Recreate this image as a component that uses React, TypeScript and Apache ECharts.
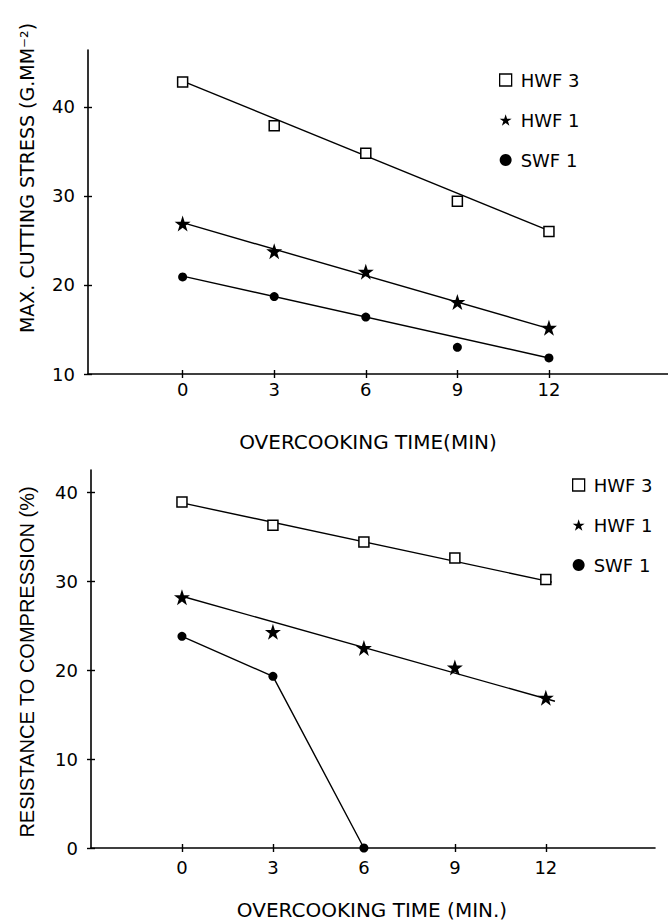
import React, { useEffect, useRef } from "react";
import * as echarts from "echarts";

const xTicks = [0, 3, 6, 9, 12];
const seriesNames = ["HWF 3", "HWF 1", "SWF 1"];

// Top panel: max cutting stress (g.mm-2)
const stressHWF3 = [42.8, 37.9, 34.8, 29.4, 26.0];
const stressHWF1 = [26.9, 23.8, 21.5, 18.1, 15.2];
const stressSWF1 = [20.9, 18.7, 16.4, 13.0, 11.8];
// fitted regression lines (start, end)
const stressFitHWF3 = [[0, 42.9], [12, 26.1]];
const stressFitHWF1 = [[0, 27.0], [12, 15.1]];
const stressFitSWF1 = [[0, 21.0], [12, 11.8]];
const stressYTicks = [10, 20, 30, 40];

// Bottom panel: resistance to compression (%)
const compHWF3 = [38.9, 36.3, 34.4, 32.6, 30.2];
const compHWF1 = [28.2, 24.3, 22.5, 20.3, 16.9];
const compSWF1X = [0, 3, 6];
const compSWF1 = [23.8, 19.3, 0.0];
const compFitHWF3 = [[0, 38.8], [12.2, 29.9]];
const compFitHWF1 = [[0, 28.3], [12.3, 16.5]];
const compYTicks = [0, 10, 20, 30, 40];

const STAR =
  "path://M50,0 L61.8,35.3 L99,35.3 L69,57.4 L80.4,92.6 L50,70.8 L19.6,92.6 L31,57.4 L1,35.3 L38.2,35.3 Z";
const symbols: Record<string, any> = {
  "HWF 3": "rect",
  "HWF 1": STAR,
  "SWF 1": "circle",
};
const symbolSizes: Record<string, number> = { "HWF 3": 10, "HWF 1": 16, "SWF 1": 9 };

const FONT = "DejaVu Sans";

function scatter(name: string, xs: number[], ys: number[], gi: number) {
  const hollow = name === "HWF 3";
  return {
    type: "scatter",
    name,
    xAxisIndex: gi,
    yAxisIndex: gi,
    symbol: symbols[name],
    symbolSize: symbolSizes[name],
    data: xs.map((x, i) => [x, ys[i]]),
    itemStyle: hollow
      ? { color: "#fff", borderColor: "#000", borderWidth: 1.5, opacity: 1 }
      : { color: "#000", opacity: 1 },
    z: 5,
  };
}

function line(data: number[][], gi: number) {
  return {
    type: "line",
    xAxisIndex: gi,
    yAxisIndex: gi,
    data,
    symbol: "none",
    lineStyle: { color: "#000", width: 1.4 },
    z: 3,
  };
}

function xAxis(gi: number, min: number, max: number, inner = false) {
  return {
    type: "value",
    gridIndex: gi,
    position: "bottom",
    min,
    max,
    splitLine: { show: false },
    axisLine: { show: !inner, onZero: false, lineStyle: { color: "#000", width: 1.6 } },
    axisTick: {
      customValues: xTicks,
      inside: inner,
      length: 4,
      lineStyle: { color: "#000", width: 1.4 },
    },
    axisLabel: {
      show: !inner,
      customValues: xTicks,
      color: "#000",
      fontSize: 18,
      fontFamily: FONT,
      margin: gi === 0 ? 6 : 10,
    },
  };
}

function yAxis(gi: number, min: number, max: number, ticks: number[], inner = false) {
  return {
    type: "value",
    gridIndex: gi,
    position: "left",
    min,
    max,
    splitLine: { show: false },
    axisLine: { show: !inner, onZero: false, lineStyle: { color: "#000", width: 1.6 } },
    axisTick: {
      customValues: ticks,
      inside: inner,
      length: 4,
      lineStyle: { color: "#000", width: 1.4 },
    },
    axisLabel: {
      show: !inner,
      customValues: ticks,
      color: "#000",
      fontSize: 18,
      fontFamily: FONT,
      margin: 13,
    },
  };
}

function legend(left: number, top: number) {
  return {
    orient: "vertical",
    left,
    top,
    itemGap: 22,
    itemWidth: 12,
    itemHeight: 12,
    selectedMode: false,
    textStyle: { color: "#000", fontSize: 18, fontFamily: FONT, padding: [0, 0, 0, 4] },
    data: seriesNames.map((n) => ({
      name: n,
      icon: n === "HWF 3" ? "rect" : symbols[n],
      itemStyle:
        n === "HWF 3"
          ? { color: "#fff", borderColor: "#000", borderWidth: 1.3 }
          : { color: "#000" },
    })),
  };
}

export default function App() {
  const ref = useRef<HTMLDivElement>(null);
  useEffect(() => {
    if (!ref.current) return;
    const chart = echarts.init(ref.current, null, { renderer: "svg" });
    chart.setOption({
      animation: false,
      backgroundColor: "#fff",
      grid: [
        { left: 88, top: 50, width: 580, height: 324 },
        { left: 91, top: 470, width: 564, height: 378 },
      ],
      xAxis: [
        xAxis(0, -3.1, 15.9),
        xAxis(1, -3.0, 15.6),
        xAxis(0, -3.1, 15.9, true),
        xAxis(1, -3.0, 15.6, true),
      ],
      yAxis: [
        yAxis(0, 10, 46.4, stressYTicks),
        yAxis(1, 0, 42.5, compYTicks),
        yAxis(0, 10, 46.4, stressYTicks, true),
        yAxis(1, 0, 42.5, compYTicks, true),
      ],
      legend: [legend(494, 66), legend(567, 471)],
      series: [
        line(stressFitHWF3, 0),
        line(stressFitHWF1, 0),
        line(stressFitSWF1, 0),
        scatter("HWF 3", xTicks, stressHWF3, 0),
        scatter("HWF 1", xTicks, stressHWF1, 0),
        scatter("SWF 1", xTicks, stressSWF1, 0),
        line(compFitHWF3, 1),
        line(compFitHWF1, 1),
        line(compSWF1X.map((x, i) => [x, compSWF1[i]]), 1),
        scatter("HWF 3", xTicks, compHWF3, 1),
        scatter("HWF 1", xTicks, compHWF1, 1),
        scatter("SWF 1", compSWF1X, compSWF1, 1),
      ],
      graphic: [
        {
          type: "text",
          x: 27,
          y: 178,
          rotation: Math.PI / 2,
          style: {
            text: "MAX. CUTTING STRESS (G.MM⁻²)",
            fill: "#000",
            font: `19px '${FONT}'`,
            align: "center",
            verticalAlign: "middle",
          },
        },
        {
          type: "text",
          x: 368,
          y: 442,
          style: {
            text: "OVERCOOKING TIME(MIN)",
            fill: "#000",
            font: `20px '${FONT}'`,
            align: "center",
            verticalAlign: "middle",
          },
        },
        {
          type: "text",
          x: 27,
          y: 662,
          rotation: Math.PI / 2,
          style: {
            text: "RESISTANCE TO COMPRESSION (%)",
            fill: "#000",
            font: "20px 'Liberation Sans'",
            align: "center",
            verticalAlign: "middle",
          },
        },
        {
          type: "text",
          x: 372,
          y: 910,
          style: {
            text: "OVERCOOKING TIME (MIN.)",
            fill: "#000",
            font: `20px '${FONT}'`,
            align: "center",
            verticalAlign: "middle",
          },
        },
      ],
    });
    return () => chart.dispose();
  }, []);
  return (
    <div
      ref={ref}
      style={{ position: "absolute", left: 0, top: 0, width: 668, height: 922 }}
    />
  );
}
